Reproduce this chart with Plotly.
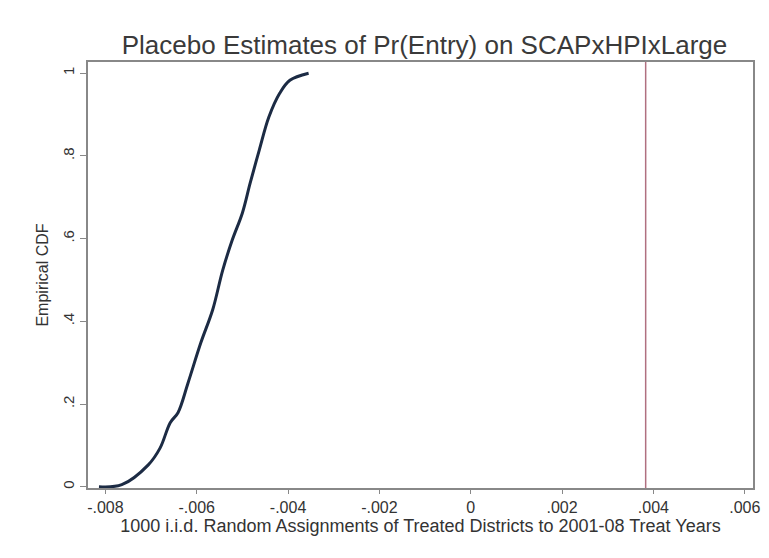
import plotly.graph_objects as go

# Empirical CDF of placebo coefficient estimates
placebo_est = [-0.00814, -0.00764, -0.00706, -0.00680, -0.00658, -0.00641, -0.00619,
               -0.00591, -0.00565, -0.00543, -0.00522, -0.00500, -0.00483, -0.00463,
               -0.00442, -0.00418, -0.00396, -0.00355]
ecdf = [0.0, 0.005, 0.053, 0.094, 0.155, 0.179, 0.251, 0.348, 0.428, 0.524, 0.597,
        0.662, 0.734, 0.814, 0.894, 0.952, 0.983, 1.0]

# Actual estimate
actual_est = 0.00383

x_ticks = [-0.008, -0.006, -0.004, -0.002, 0, 0.002, 0.004, 0.006]
x_tick_text = ["-.008", "-.006", "-.004", "-.002", "0", ".002", ".004", ".006"]
y_ticks = [0, 0.2, 0.4, 0.6, 0.8, 1]
y_tick_text = ["0", ".2", ".4", ".6", ".8", "1"]

fig = go.Figure()
fig.add_trace(go.Scatter(x=placebo_est, y=ecdf, mode="lines",
                         line=dict(color="#1c2b44", width=3, shape="spline"),
                         showlegend=False))

fig.add_shape(type="line", xref="x", yref="paper", x0=actual_est, x1=actual_est,
              y0=0, y1=1, line=dict(color="#b07080", width=1.5))

font = "Liberation Sans, Arial, sans-serif"
fig.update_layout(
    width=769, height=558,
    margin=dict(l=88, r=9, t=62, b=70),
    paper_bgcolor="white", plot_bgcolor="white",
    font=dict(family=font, color="#333333"),
    title=dict(text="Placebo Estimates of Pr(Entry) on SCAPxHPIxLarge",
               x=0.552, xanchor="center", y=0.92, yanchor="middle",
               font=dict(size=26, color="#3a3a3a")),
    xaxis=dict(range=[-0.00838, 0.00618], tickvals=x_ticks, ticktext=x_tick_text,
               showgrid=False, zeroline=False, showline=True, linecolor="#888888",
               linewidth=1.5, mirror=True, ticks="outside", ticklen=4, tickcolor="#888888",
               tickfont=dict(size=16),
               title=dict(text="1000 i.i.d. Random Assignments of Treated Districts to 2001-08 Treat Years",
                          font=dict(size=18), standoff=4)),
    yaxis=dict(range=[-0.003, 1.027], tickvals=y_ticks, ticktext=y_tick_text,
               showgrid=False, zeroline=False, showline=True, linecolor="#888888",
               linewidth=1.5, mirror=True, ticks="outside", ticklen=6, tickcolor="#888888",
               tickangle=-90, tickfont=dict(size=15),
               title=dict(text="Empirical CDF", font=dict(size=16), standoff=8)),
)

fig.write_html("out.html")
